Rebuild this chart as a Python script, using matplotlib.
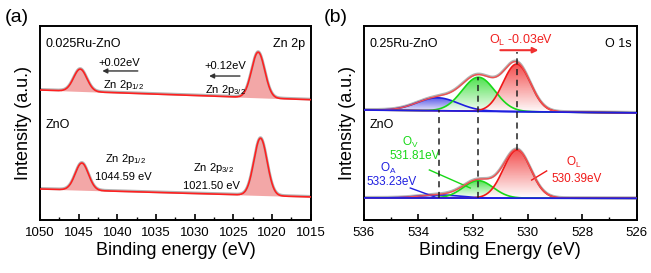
import numpy as np
import matplotlib
matplotlib.use('Agg')
import matplotlib.pyplot as plt
from matplotlib.colors import LinearSegmentedColormap
from matplotlib.patches import PathPatch
from matplotlib.path import Path

plt.rcParams['font.family'] = ['Liberation Sans', 'DejaVu Sans']
plt.rcParams['mathtext.fontset'] = 'custom'
plt.rcParams['mathtext.rm'] = 'Liberation Sans'
plt.rcParams['mathtext.it'] = 'Liberation Sans'

# ---- panel (a): Zn 2p, peaks ----
zn_centers_top = [1044.8, 1021.8]
zn_heights_top = [11.5, 23.5]
zn_widths_top = [0.85, 0.85]
zn_base_top = [67.0, 62.0]   # background at 1050 and 1015 eV

zn_centers_bot = [1044.59, 1021.50]
zn_heights_bot = [14.0, 29.5]
zn_widths_bot = [0.85, 0.85]
zn_base_bot = [16.0, 11.9]

# ---- panel (b): O 1s components (O_A, O_V, O_L) ----
o_labels = ['O_A', 'O_V', 'O_L']
o_colors = ['#1f1fe0', '#18d818', '#f01818']
o_centers_top = [533.3, 531.8, 530.4]
o_heights_top = [6.7, 17.5, 24.5]
o_widths_top = [0.75, 0.6, 0.5]
o_base_top = [56.7, 55.2]    # background at 536 and 526 eV

o_centers_bot = [533.23, 531.81, 530.39]
o_heights_bot = [1.6, 9.0, 24.8]
o_widths_bot = [0.75, 0.55, 0.5]
o_base_bot = [11.4, 11.2]


def gauss(x, c, h, w):
    return h * np.exp(-0.5 * ((x - c) / w) ** 2)


def linear_bg(x, lo, hi, x_left, x_right):
    # straight background between the two end values
    return lo + (hi - lo) * (x - x_left) / (x_right - x_left)


def gradient_fill(ax, x, ytop, ybase, color):
    cmap = LinearSegmentedColormap.from_list('g', ['white', color])
    ymin, ymax = ybase.min(), ytop.max()
    grad = np.linspace(0, 0.85, 100).reshape(-1, 1)
    im = ax.imshow(grad, aspect='auto', cmap=cmap, vmin=0, vmax=1,
                   extent=[x.max(), x.min(), ymin, ymax], origin='lower',
                   zorder=1, alpha=0.9)
    verts = np.vstack([np.column_stack([x, ytop]),
                       np.column_stack([x[::-1], ybase[::-1]])])
    patch = PathPatch(Path(verts), facecolor='none', edgecolor='none')
    ax.add_patch(patch)
    im.set_clip_path(patch)


def style_axes(ax):
    for s in ax.spines.values():
        s.set_linewidth(1.4)
    ax.tick_params(axis='x', direction='in', length=4, width=1.2,
                   labelsize=9.5, pad=5)
    ax.tick_params(axis='x', which='minor', direction='in', length=2.5, width=1.0)
    ax.set_yticks([])
    ax.set_ylim(0, 100)


fig = plt.figure(figsize=(6.51, 2.73), dpi=100)
axa = fig.add_axes([0.0614, 0.194, 0.416, 0.711])
axb = fig.add_axes([0.559, 0.194, 0.419, 0.711])

# ---------------- panel (a) ----------------
xa = np.linspace(1050, 1015, 700)
for cs, hs, ws, base in [(zn_centers_top, zn_heights_top, zn_widths_top, zn_base_top),
                         (zn_centers_bot, zn_heights_bot, zn_widths_bot, zn_base_bot)]:
    bg = linear_bg(xa, base[0], base[1], 1050, 1015)
    env = bg.copy()
    for c, h, w in zip(cs, hs, ws):
        pk = gauss(xa, c, h, w)
        m = pk > 0.01 * h
        axa.fill_between(xa[m], bg[m], bg[m] + pk[m], color='#f08a8a',
                         alpha=0.75, lw=0, zorder=1)
        env += pk
    axa.plot(xa, env + 0.3, color='#b4b4b4', lw=2.0, zorder=2)
    axa.plot(xa, env, color='#ff2020', lw=1.2, zorder=3)

axa.set_xlim(1050, 1015)
axa.set_xticks(np.arange(1050, 1014, -5))
axa.set_xticks(np.arange(1047.5, 1015, -5), minor=True)
style_axes(axa)
axa.set_xlabel('Binding energy (eV)', fontsize=13, labelpad=2)
axa.set_ylabel('Intensity (a.u.)', fontsize=13, labelpad=6)

axa.text(0.02, 0.94, '0.025Ru-ZnO', transform=axa.transAxes, fontsize=9, va='top')
axa.text(0.98, 0.94, 'Zn 2p', transform=axa.transAxes, fontsize=9, va='top', ha='right')
axa.text(0.02, 0.52, 'ZnO', transform=axa.transAxes, fontsize=9, va='top')

arrow_kw = dict(arrowstyle='-|>', color='#333333', lw=1.0, mutation_scale=7)
axa.annotate('', xy=(1042.3, 76.8), xytext=(1037.0, 76.8), arrowprops=arrow_kw)
axa.text(1039.7, 79.5, '+0.02eV', fontsize=8, ha='center')
axa.text(1039.2, 68, 'Zn 2p$_{1/2}$', fontsize=8, ha='center')
axa.annotate('', xy=(1028.5, 74.2), xytext=(1023.8, 74.2), arrowprops=arrow_kw)
axa.text(1026.0, 78.0, '+0.12eV', fontsize=8, ha='center')
axa.text(1026.0, 65.5, 'Zn 2p$_{3/2}$', fontsize=8, ha='center')

axa.text(1039.0, 30.0, 'Zn 2p$_{1/2}$', fontsize=8, ha='center')
axa.text(1039.2, 20.5, '1044.59 eV', fontsize=8, ha='center')
axa.text(1027.6, 25.5, 'Zn 2p$_{3/2}$', fontsize=8, ha='center')
axa.text(1027.8, 16.0, '1021.50 eV', fontsize=8, ha='center')

# ---------------- panel (b) ----------------
xb = np.linspace(536, 526, 600)
for cs, hs, ws, base in [(o_centers_top, o_heights_top, o_widths_top, o_base_top),
                         (o_centers_bot, o_heights_bot, o_widths_bot, o_base_bot)]:
    bg = linear_bg(xb, base[0], base[1], 536, 526)
    env = bg.copy()
    for c, h, w, col in zip(cs, hs, ws, o_colors):
        pk = gauss(xb, c, h, w)
        gradient_fill(axb, xb, bg + pk, bg, col)
        axb.plot(xb, bg + pk, color=col, lw=1.2, zorder=3)
        env += pk
    axb.plot(xb, env + 0.3, color='#b4b4b4', lw=2.0, zorder=2)
    axb.plot(xb, env, color='#f05050', lw=1.0, zorder=4)
    axb.plot(xb, bg, color='#1f1fe0', lw=1.3, zorder=5)

# dashed guide lines
dash_x = o_centers_bot
dash_top = [56.7, 73.7, 86.6]
dash_bot = [11.3, 11.3, 36.1]
for xx, yt, yb in zip(dash_x, dash_top, dash_bot):
    axb.plot([xx, xx], [yb, yt], color='#222222', lw=1.1, ls=(0, (4, 3)), zorder=6)

axb.set_xlim(536, 526)
axb.set_xticks(np.arange(536, 525, -2))
axb.set_xticks(np.arange(535, 526, -2), minor=True)
style_axes(axb)
axb.set_xlabel('Binding Energy (eV)', fontsize=13, labelpad=2)
axb.set_ylabel('Intensity (a.u.)', fontsize=13, labelpad=6)

axb.text(0.02, 0.94, '0.25Ru-ZnO', transform=axb.transAxes, fontsize=9, va='top')
axb.text(0.98, 0.94, 'O 1s', transform=axb.transAxes, fontsize=9, va='top', ha='right')
axb.text(0.02, 0.52, 'ZnO', transform=axb.transAxes, fontsize=9, va='top')

axb.text(530.25, 90.5, 'O$_L$ -0.03eV', fontsize=9, ha='center', color='#f02020')
axb.annotate('', xy=(529.5, 87.5), xytext=(531.1, 87.5),
             arrowprops=dict(arrowstyle='-|>', color='#f03030', lw=1.5, mutation_scale=8))

axb.text(534.3, 40.2, 'O$_V$', fontsize=8.5, ha='center', va='center', color='#18d818')
axb.text(534.15, 33.2, '531.81eV', fontsize=8.5, ha='center', va='center', color='#18d818')
axb.plot([533.6, 532.1], [25.8, 16.5], color='#18d818', lw=1.0)
axb.text(535.1, 26.6, 'O$_A$', fontsize=8.5, ha='center', va='center', color='#1f1fe0')
axb.text(535.0, 19.6, '533.23eV', fontsize=8.5, ha='center', va='center', color='#1f1fe0')
axb.plot([534.3, 533.4], [16.5, 11.9], color='#1f1fe0', lw=1.0)
axb.text(528.3, 29.5, 'O$_L$', fontsize=8.5, ha='center', va='center', color='#f01818')
axb.text(528.2, 21.0, '530.39eV', fontsize=8.5, ha='center', va='center', color='#f01818')
axb.plot([529.3, 529.85], [25.3, 20.6], color='#f01818', lw=1.0)

fig.text(0.008, 0.92, '(a)', fontsize=14)
fig.text(0.497, 0.92, '(b)', fontsize=14)

fig.savefig('out.png', dpi=100)
